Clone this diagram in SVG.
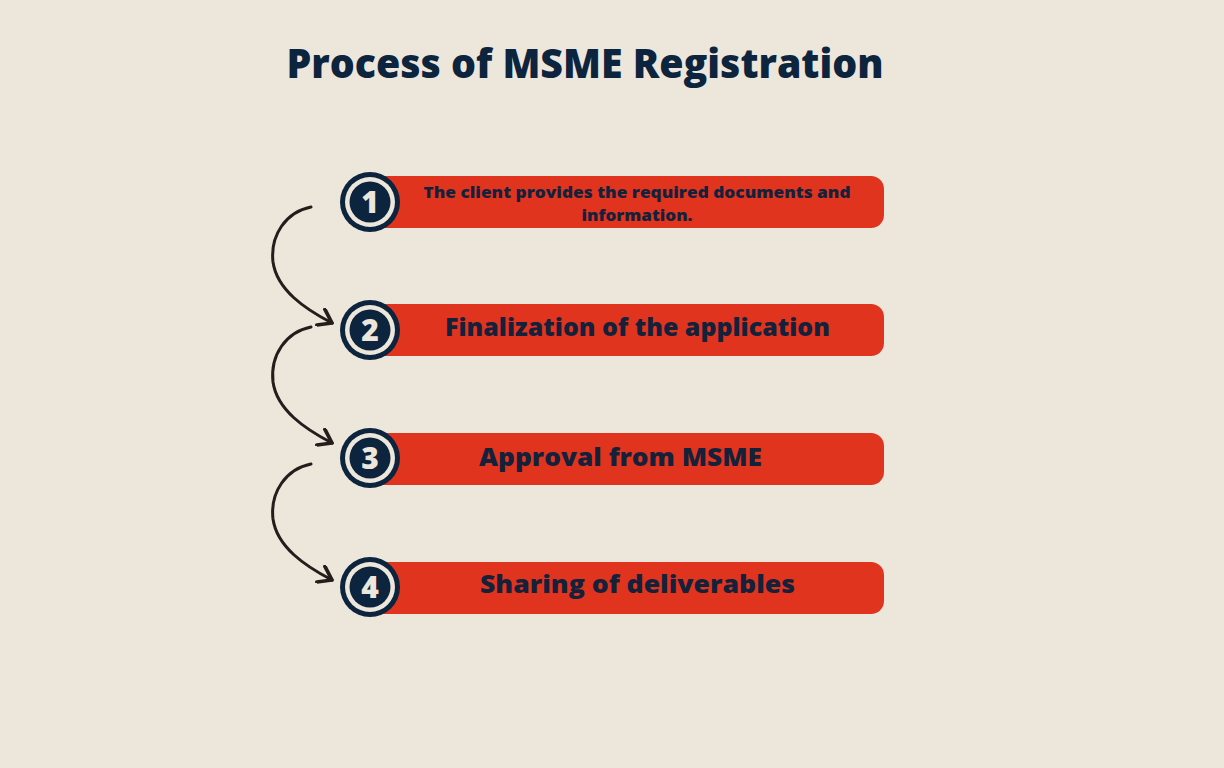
<svg xmlns="http://www.w3.org/2000/svg" width="1224" height="768" viewBox="0 0 1224 768">
<style>
.bar{fill:#e0341f}
.ring{fill:#0c243d}
.gap{fill:#ede6db}
.num{font-family:"Open Sans","Liberation Sans",sans-serif;font-weight:800;font-size:30px;fill:#ede6db;text-anchor:middle}
.lbl{font-family:"Open Sans","Liberation Sans",sans-serif;font-weight:800;fill:#14213a;text-anchor:middle}
.conn{fill:none;stroke:#231d1c;stroke-width:3;stroke-linecap:round;stroke-linejoin:round}
</style>
<defs>
<marker id="arr" markerWidth="20" markerHeight="20" viewBox="-12 -8 14 16" refX="0" refY="0" orient="auto" markerUnits="userSpaceOnUse">
<path d="M-10,-7 L0,0 L-10,7" fill="none" stroke="#231d1c" stroke-width="3" stroke-linecap="round" stroke-linejoin="round"/>
</marker>
</defs>
<rect width="1224" height="768" fill="#ede6db"/>
<text x="585" y="78" font-family="Open Sans, Liberation Sans, sans-serif" font-weight="800" font-size="40" fill="#0c243d" text-anchor="middle" textLength="597" lengthAdjust="spacingAndGlyphs">Process of MSME Registration</text>
<g id="step1">
<rect class="bar" x="370" y="176" width="514" height="52" rx="13"/>
<circle class="ring" cx="370" cy="202" r="30"/>
<circle class="gap" cx="370" cy="202" r="25"/>
<circle class="ring" cx="370" cy="202" r="20.5"/>
<text class="num" x="370" y="213">1</text>
<text class="lbl" x="637" y="198" font-size="15" textLength="427" lengthAdjust="spacingAndGlyphs">The client provides the required documents and</text>
<text class="lbl" x="637" y="221" font-size="15" textLength="111" lengthAdjust="spacingAndGlyphs">information.</text>
</g>
<g id="step2">
<rect class="bar" x="370" y="304" width="514" height="52" rx="13"/>
<circle class="ring" cx="370" cy="330" r="30"/>
<circle class="gap" cx="370" cy="330" r="25"/>
<circle class="ring" cx="370" cy="330" r="20.5"/>
<text class="num" x="370" y="341">2</text>
<text class="lbl" x="637.5" y="336" font-size="24" textLength="385" lengthAdjust="spacingAndGlyphs">Finalization of the application</text>
</g>
<g id="step3">
<rect class="bar" x="370" y="433" width="514" height="52" rx="13"/>
<circle class="ring" cx="370" cy="458" r="30"/>
<circle class="gap" cx="370" cy="458" r="25"/>
<circle class="ring" cx="370" cy="458" r="20.5"/>
<text class="num" x="370" y="469">3</text>
<text class="lbl" x="620.5" y="466" font-size="24" textLength="283" lengthAdjust="spacingAndGlyphs">Approval from MSME</text>
</g>
<g id="step4">
<rect class="bar" x="370" y="562" width="514" height="52" rx="13"/>
<circle class="ring" cx="370" cy="587" r="30"/>
<circle class="gap" cx="370" cy="587" r="25"/>
<circle class="ring" cx="370" cy="587" r="20.5"/>
<text class="num" x="370" y="598">4</text>
<text class="lbl" x="637.5" y="593" font-size="24" textLength="315" lengthAdjust="spacingAndGlyphs">Sharing of deliverables</text>
</g>
<g id="connectors">
<path class="conn" marker-end="url(#arr)" d="M311,207 C286,212 270,235 273,262 C277,290 305,309 332,323"/>
<path class="conn" marker-end="url(#arr)" d="M311,327 C286,332 270,355 273,382 C277,410 305,429 332,443"/>
<path class="conn" marker-end="url(#arr)" d="M311,464 C286,469 270,492 273,519 C277,547 305,566 332,580"/>
</g>
</svg>
